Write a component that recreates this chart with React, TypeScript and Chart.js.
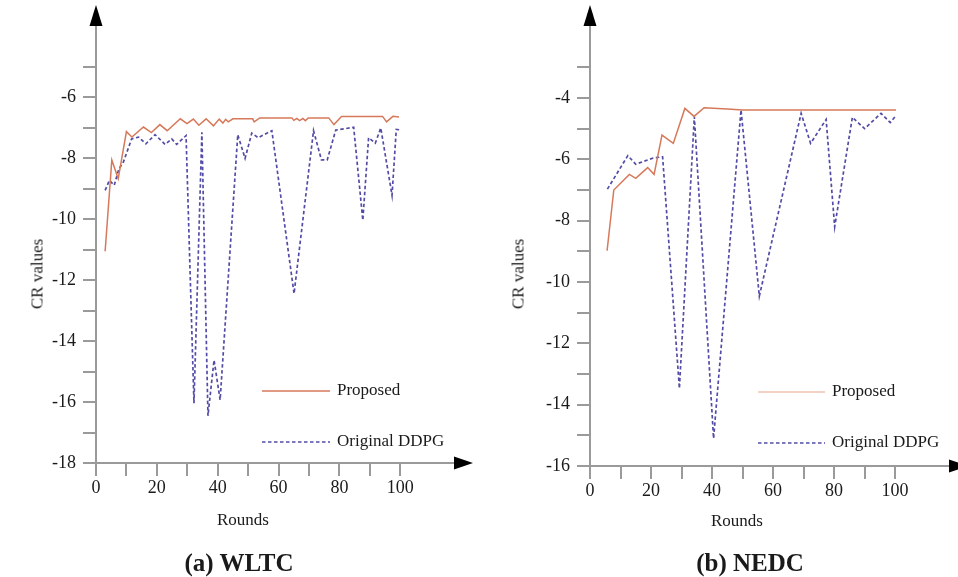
import React, { useEffect, useRef } from "react";
import { Chart, registerables } from "chart.js";
Chart.register(...registerables);

// ---- (a) WLTC ----
const wltcProposedRounds = [3, 5.2, 7.3, 10, 11.8, 15.6, 18.2, 21, 23.4, 27.7, 29.9, 32, 33.8, 36.2, 38.6, 40.5, 41.7, 42.6, 43.5, 45, 51.5, 52, 53.8, 64.4, 65, 66, 66.9, 68, 68.8, 69.8, 76.5, 78.2, 80.7, 94.2, 95.5, 97.6, 99.6];
const wltcProposedValues = [-11.05, -8.05, -8.67, -7.12, -7.3, -6.97, -7.15, -6.89, -7.09, -6.7, -6.86, -6.71, -6.91, -6.7, -6.93, -6.71, -6.84, -6.72, -6.8, -6.7, -6.7, -6.8, -6.67, -6.67, -6.75, -6.69, -6.76, -6.69, -6.76, -6.67, -6.67, -6.89, -6.62, -6.62, -6.8, -6.62, -6.64];

const wltcOriginalRounds = [3, 4.4, 6, 7.5, 9, 11.7, 14, 16.4, 19.4, 22.7, 24.9, 26.5, 29.6, 32.2, 34.8, 36.8, 38.8, 40.8, 46.6, 49, 51.2, 53.3, 57.8, 65.1, 71.5, 74.1, 76, 78.8, 84.7, 87.7, 89.6, 91.8, 93.6, 97.3, 98.7, 99.8];
const wltcOriginalValues = [-9.05, -8.72, -8.88, -8.35, -8.12, -7.36, -7.3, -7.52, -7.22, -7.54, -7.36, -7.54, -7.25, -16.04, -7.14, -16.45, -14.62, -15.93, -7.22, -8.0, -7.17, -7.32, -7.09, -12.44, -7.09, -8.05, -8.05, -7.07, -6.98, -10.03, -7.32, -7.5, -7.0, -9.21, -7.05, -7.06];

// ---- (b) NEDC ----
const nedcProposedRounds = [5.6, 7.8, 12.9, 15, 18.9, 21, 23.6, 27.3, 31.1, 34.1, 37.4, 45, 50, 100.3];
const nedcProposedValues = [-8.98, -7.0, -6.49, -6.62, -6.27, -6.49, -5.21, -5.48, -4.34, -4.6, -4.32, -4.36, -4.39, -4.39];

const nedcOriginalRounds = [5.7, 12.4, 15, 18.9, 21, 23.8, 29.3, 34.2, 40.5, 49.5, 55.5, 69.2, 72.3, 77.4, 80.2, 86, 90, 95.4, 98.4, 100];
const nedcOriginalValues = [-6.97, -5.88, -6.16, -6.02, -5.95, -5.92, -13.47, -4.61, -15.1, -4.39, -10.46, -4.5, -5.48, -4.7, -8.2, -4.63, -5.0, -4.5, -4.8, -4.61];

const xTickValues = [0, 10, 20, 30, 40, 50, 60, 70, 80, 90, 100];
const wltcYTicks = [-18, -17, -16, -15, -14, -13, -12, -11, -10, -9, -8, -7, -6, -5];
const nedcYTicks = [-16, -15, -14, -13, -12, -11, -10, -9, -8, -7, -6, -5, -4, -3];

const seriesLabels = ["Proposed", "Original DDPG"];

const FONT = "'Liberation Serif', 'Times New Roman', serif";
const ORANGE = "#d6795a";
const BLUE = "#524ca6";
const AXIS = "#9a9a9a";

const zip = (xs: number[], ys: number[]) => xs.map((x, i) => ({ x, y: ys[i] }));

const decorPlugin = {
  id: "decor",
  afterDraw(chart: any, _args: any, opts: any) {
    const { ctx, chartArea } = chart;
    const { left, right, top, bottom } = chartArea;
    ctx.save();
    ctx.fillStyle = "#000";
    ctx.beginPath();
    ctx.moveTo(left - 6.5, top + 1);
    ctx.lineTo(left + 6.5, top + 1);
    ctx.lineTo(left, top - 20);
    ctx.closePath();
    ctx.fill();
    ctx.beginPath();
    ctx.moveTo(right - 1, bottom - 6.5);
    ctx.lineTo(right - 1, bottom + 6.5);
    ctx.lineTo(right + 18, bottom);
    ctx.closePath();
    ctx.fill();

    // legend
    const ds = chart.data.datasets;
    const ys = [opts.y1, opts.y2];
    ds.forEach((d: any, i: number) => {
      ctx.beginPath();
      ctx.strokeStyle = i === 0 && opts.proposedColor ? opts.proposedColor : d.borderColor;
      ctx.lineWidth = 1.5;
      ctx.setLineDash(d.borderDash || []);
      ctx.moveTo(opts.lineStart, ys[i]);
      ctx.lineTo(opts.lineEnd, ys[i]);
      ctx.stroke();
      ctx.setLineDash([]);
      ctx.fillStyle = "#1a1a1a";
      ctx.font = `17px ${FONT}`;
      ctx.textBaseline = "middle";
      ctx.textAlign = "left";
      ctx.fillText(d.label, opts.textX, ys[i]);
    });
    ctx.restore();
  },
};

function makeConfig(p: {
  proposed: { x: number; y: number }[];
  original: { x: number; y: number }[];
  yMin: number;
  yMax: number;
  yTicks: number[];
  yWidth: number;
  xHeight: number;
  padRight: number;
  legend: any;
}) {
  return {
    type: "line",
    data: {
      datasets: [
        {
          label: seriesLabels[0],
          data: p.proposed,
          borderColor: ORANGE,
          borderWidth: 1.5,
          pointRadius: 0,
          tension: 0,
          fill: false,
        },
        {
          label: seriesLabels[1],
          data: p.original,
          borderColor: BLUE,
          borderWidth: 1.7,
          borderDash: [3.5, 2.5],
          pointRadius: 0,
          tension: 0,
          fill: false,
        },
      ],
    },
    options: {
      responsive: false,
      animation: false,
      devicePixelRatio: 1,
      layout: { padding: { left: 0, top: 25, right: p.padRight, bottom: 0 } },
      plugins: {
        legend: { display: false },
        tooltip: { enabled: false },
        decor: p.legend,
      },
      scales: {
        x: {
          type: "linear",
          min: 0,
          max: 118,
          afterBuildTicks: (s: any) => {
            s.ticks = xTickValues.map((v) => ({ value: v }));
          },
          afterFit: (s: any) => {
            s.height = p.xHeight;
          },
          ticks: {
            autoSkip: false,
            maxRotation: 0,
            padding: 1,
            color: "#1a1a1a",
            font: { family: FONT, size: 18 },
            callback: (v: number) => (v % 20 === 0 ? String(v) : ""),
          },
          grid: { drawOnChartArea: false, drawTicks: true, tickLength: 13, color: AXIS, lineWidth: 2 },
          border: { display: true, color: AXIS, width: 2 },
        },
        y: {
          type: "linear",
          min: p.yMin,
          max: p.yMax,
          afterBuildTicks: (s: any) => {
            s.ticks = p.yTicks.map((v) => ({ value: v }));
          },
          afterFit: (s: any) => {
            s.width = p.yWidth;
          },
          ticks: {
            autoSkip: false,
            padding: 7,
            color: "#1a1a1a",
            font: { family: FONT, size: 18 },
            callback: (v: number) => (v % 2 === 0 ? String(v) : ""),
          },
          grid: { drawOnChartArea: false, drawTicks: true, tickLength: 13, color: AXIS, lineWidth: 2 },
          border: { display: true, color: AXIS, width: 2 },
        },
      },
    },
    plugins: [decorPlugin],
  } as any;
}

const textBase: React.CSSProperties = {
  position: "absolute",
  fontFamily: FONT,
  color: "#1a1a1a",
  whiteSpace: "nowrap",
  lineHeight: 1,
};

export default function App() {
  const leftRef = useRef<HTMLCanvasElement>(null);
  const rightRef = useRef<HTMLCanvasElement>(null);

  useEffect(() => {
    const c1 = new Chart(
      leftRef.current as HTMLCanvasElement,
      makeConfig({
        proposed: zip(wltcProposedRounds, wltcProposedValues),
        original: zip(wltcOriginalRounds, wltcOriginalValues),
        yMin: -18,
        yMax: -3.62,
        yTicks: wltcYTicks,
        yWidth: 96,
        xHeight: 577 - 463,
        padRight: 24,
        legend: { lineStart: 262, lineEnd: 330, textX: 337, y1: 391, y2: 442 },
      })
    );
    const c2 = new Chart(
      rightRef.current as HTMLCanvasElement,
      makeConfig({
        proposed: zip(nedcProposedRounds, nedcProposedValues),
        original: zip(nedcOriginalRounds, nedcOriginalValues),
        yMin: -16,
        yMax: -1.62,
        yTicks: nedcYTicks,
        yWidth: 111,
        xHeight: 577 - 466,
        padRight: 8,
        legend: { lineStart: 279, lineEnd: 346, textX: 353, y1: 392, y2: 443, proposedColor: "#efc3b2" },
      })
    );
    return () => {
      c1.destroy();
      c2.destroy();
    };
  }, []);

  return (
    <div style={{ position: "absolute", left: 0, top: 0, width: 958, height: 577, background: "#fff", overflow: "hidden" }}>
      <canvas ref={leftRef} width={479} height={577} style={{ position: "absolute", left: 0, top: 0 }} />
      <canvas ref={rightRef} width={479} height={577} style={{ position: "absolute", left: 479, top: 0 }} />
      <div style={{ ...textBase, fontSize: 17, left: 37, top: 274, transform: "translate(-50%,-50%) rotate(-90deg)" }}>CR values</div>
      <div style={{ ...textBase, fontSize: 17, left: 518, top: 274, transform: "translate(-50%,-50%) rotate(-90deg)" }}>CR values</div>
      <div style={{ ...textBase, fontSize: 17, left: 243, top: 519, transform: "translate(-50%,-50%)" }}>Rounds</div>
      <div style={{ ...textBase, fontSize: 17, left: 737, top: 520, transform: "translate(-50%,-50%)" }}>Rounds</div>
      <div style={{ ...textBase, fontSize: 25, fontWeight: "bold", left: 239, top: 562, transform: "translate(-50%,-50%)" }}>(a) WLTC</div>
      <div style={{ ...textBase, fontSize: 25, fontWeight: "bold", left: 750, top: 562, transform: "translate(-50%,-50%)" }}>(b) NEDC</div>
    </div>
  );
}
